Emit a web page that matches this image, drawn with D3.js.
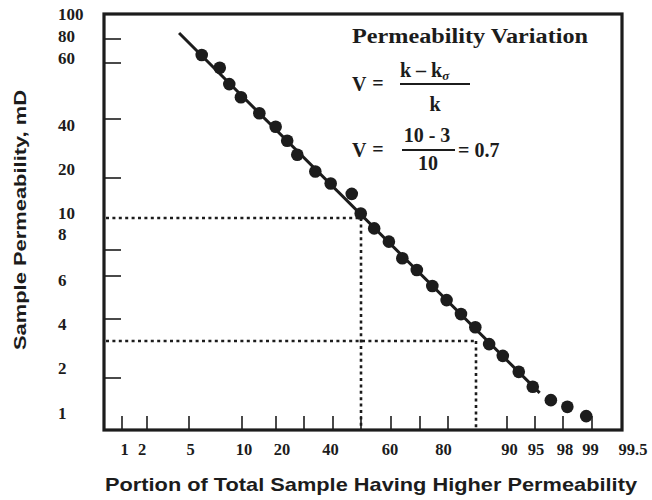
<!DOCTYPE html>
<html><head><meta charset="utf-8">
<script src="https://cdn.jsdelivr.net/npm/d3@7"></script>
<style>body{margin:0;background:#fff}svg{display:block}</style>
</head><body><svg id="c" width="652" height="500"></svg>
<script>
// ---- data ----
const xTickValues = [1, 2, 5, 10, 20, 30, 40, 50, 60, 70, 80, 90, 95, 98, 99];
const xLabelValues = [1, 2, 5, 10, 20, 40, 60, 80, 90, 95, 98, 99, 99.5];
const yTickValues = [80, 60, 40, 20, 8, 6, 4, 2];
const yLabelValues = [100, 80, 60, 40, 20, 10, 8, 6, 4, 2, 1];
const portion = [6.2, 7.9, 8.8, 9.9, 15.1, 19.9, 24.0, 27.6, 33.9, 39.2, 46.7, 49.9, 54.4, 59.3, 63.9, 68.9, 74.4, 79.5, 81.9, 84.0, 86.6, 89.2, 92.1, 94.6, 96.7, 98.15, 98.8];
const permeability = [66, 58, 51.5, 46.8, 41.7, 36.5, 31.0, 26.3, 21.6, 18.2, 15.2, 10.8, 9.3, 8.48, 7.3, 6.41, 5.46, 4.78, 4.19, 3.59, 2.90, 2.55, 2.14, 1.68, 1.29, 1.13, 0.94];
const fitPortion = [4.29, 95.5];
const fitPerm = [84.4, 1.49];
const refPortion = [50, 84.1];
const refPerm = [10, 3];

// ---- layout ----
const pL = 104, pR = 622, pT = 14, pB = 430;
const ink = "#1c1c1c";
const serif = "'Liberation Serif','Times New Roman',serif";
const sans = "'Liberation Sans',Arial,sans-serif";

// probability-style x scale (piecewise, as drawn on the paper)
const x = d3.scaleLinear()
  .domain([0.5, 1, 2, 5, 10, 20, 30, 40, 50, 60, 70, 80, 84.1, 90, 95, 98, 99, 99.5])
  .range([pL, 122, 147, 189, 242, 276, 304, 333, 361, 391, 420, 448, 476, 507, 535, 563, 592, pR]);
const xLabel = d3.scaleLinear()
  .domain([1, 2, 5, 10, 20, 40, 60, 80, 90, 95, 98, 99, 99.5])
  .range([124.5, 142, 190.5, 244, 282, 330.5, 390, 443.5, 509.5, 536, 565, 590.5, 633]);
// log-style y scale (piecewise, as drawn on the paper)
const y = d3.scaleLog()
  .domain([100, 80, 60, 40, 20, 10, 8, 6, 4, 3, 2, 1])
  .range([pT, 39, 63, 119, 178, 218, 250, 276, 319, 341, 378, 413]);
const yLabel = d3.scaleLog()
  .domain([100, 80, 60, 40, 20, 10, 8, 6, 4, 2, 1])
  .range([14, 35.5, 58, 125, 169, 212.5, 234, 279.5, 324, 368, 413]);

const svg = d3.select("#c");
svg.append("rect").attr("width", 652).attr("height", 500).attr("fill", "#fff");

// reference dotted lines
const refs = refPortion.map((p, i) => ({p, k: refPerm[i]}));
svg.selectAll(".refh").data(refs).join("line")
  .attr("x1", pL + 2).attr("x2", d => x(d.p))
  .attr("y1", d => y(d.k)).attr("y2", d => y(d.k))
  .attr("stroke", ink).attr("stroke-width", 2.6).attr("stroke-dasharray", "3,3.4");
svg.selectAll(".refv").data(refs).join("line")
  .attr("x1", d => x(d.p)).attr("x2", d => x(d.p))
  .attr("y1", d => y(d.k)).attr("y2", pB)
  .attr("stroke", ink).attr("stroke-width", 2.6).attr("stroke-dasharray", "3,3.4");

// ticks
svg.selectAll(".yt").data(yTickValues).join("line")
  .attr("x1", pL).attr("x2", pL + 17)
  .attr("y1", d => y(d)).attr("y2", d => y(d))
  .attr("stroke", ink).attr("stroke-width", 1.6);
svg.selectAll(".xt").data(xTickValues).join("line")
  .attr("x1", d => x(d)).attr("x2", d => x(d))
  .attr("y1", pB).attr("y2", pB - 14)
  .attr("stroke", ink).attr("stroke-width", 1.6);

// frame
svg.append("rect").attr("x", pL).attr("y", pT)
  .attr("width", pR - pL).attr("height", pB - pT)
  .attr("fill", "none").attr("stroke", ink).attr("stroke-width", 3.2);

// tick labels
svg.selectAll(".yl").data(yLabelValues).join("text")
  .attr("x", 58).attr("y", d => yLabel(d)).attr("dy", "0.36em")
  .attr("font-family", serif).attr("font-weight", "bold").attr("font-size", 17)
  .attr("fill", ink).text(d => d);
svg.selectAll(".xl").data(xLabelValues).join("text")
  .attr("x", d => xLabel(d)).attr("y", 455).attr("text-anchor", "middle")
  .attr("font-family", serif).attr("font-weight", "bold").attr("font-size", 16.5)
  .attr("fill", ink).text(d => d);

// fitted line
svg.append("path")
  .datum(fitPortion.map((p, i) => [p, fitPerm[i]]))
  .attr("d", d3.line().x(d => x(d[0])).y(d => y(d[1])))
  .attr("stroke", ink).attr("stroke-width", 3).attr("fill", "none");

// points
svg.selectAll(".pt").data(portion.map((p, i) => [p, permeability[i]])).join("circle")
  .attr("cx", d => x(d[0])).attr("cy", d => y(d[1])).attr("r", 6.3)
  .attr("fill", ink);

// axis titles
svg.append("text").attr("x", 105).attr("y", 491)
  .attr("font-family", sans).attr("font-weight", "bold").attr("font-size", 18.5)
  .attr("textLength", 532).attr("lengthAdjust", "spacingAndGlyphs")
  .attr("fill", ink).text("Portion of Total Sample Having Higher Permeability");
svg.append("text").attr("transform", "translate(26,220) rotate(-90)")
  .attr("text-anchor", "middle")
  .attr("font-family", sans).attr("font-weight", "bold").attr("font-size", 17)
  .attr("textLength", 260).attr("lengthAdjust", "spacingAndGlyphs")
  .attr("fill", ink).text("Sample Permeability, mD");

// formula annotation
const f = svg.append("g").attr("font-family", serif).attr("font-weight", "bold")
  .attr("fill", ink).attr("font-size", 20);
f.append("text").attr("x", 352).attr("y", 43).attr("font-size", 20.5)
  .attr("textLength", 236).attr("lengthAdjust", "spacingAndGlyphs")
  .text("Permeability Variation");
f.append("text").attr("x", 352).attr("y", 91).text("V");
f.append("text").attr("x", 378).attr("y", 90).attr("text-anchor", "middle").text("=");
const num = f.append("text").attr("x", 400).attr("y", 77);
num.append("tspan").text("k \u2013 k");
num.append("tspan").attr("font-size", 13).attr("font-style", "italic").attr("dy", 3).text("\u03c3");
f.append("line").attr("x1", 400).attr("x2", 470).attr("y1", 84).attr("y2", 84)
  .attr("stroke", ink).attr("stroke-width", 2);
f.append("text").attr("x", 435).attr("y", 111).attr("text-anchor", "middle").text("k");

f.append("text").attr("x", 352).attr("y", 157).text("V");
f.append("text").attr("x", 378).attr("y", 156).attr("text-anchor", "middle").text("=");
f.append("text").attr("x", 427).attr("y", 142).attr("text-anchor", "middle").text("10 - 3");
f.append("line").attr("x1", 402).attr("x2", 455).attr("y1", 150).attr("y2", 150)
  .attr("stroke", ink).attr("stroke-width", 2);
f.append("text").attr("x", 428).attr("y", 170).attr("text-anchor", "middle").text("10");
f.append("text").attr("x", 458).attr("y", 157).text("= 0.7");
</script></body></html>
